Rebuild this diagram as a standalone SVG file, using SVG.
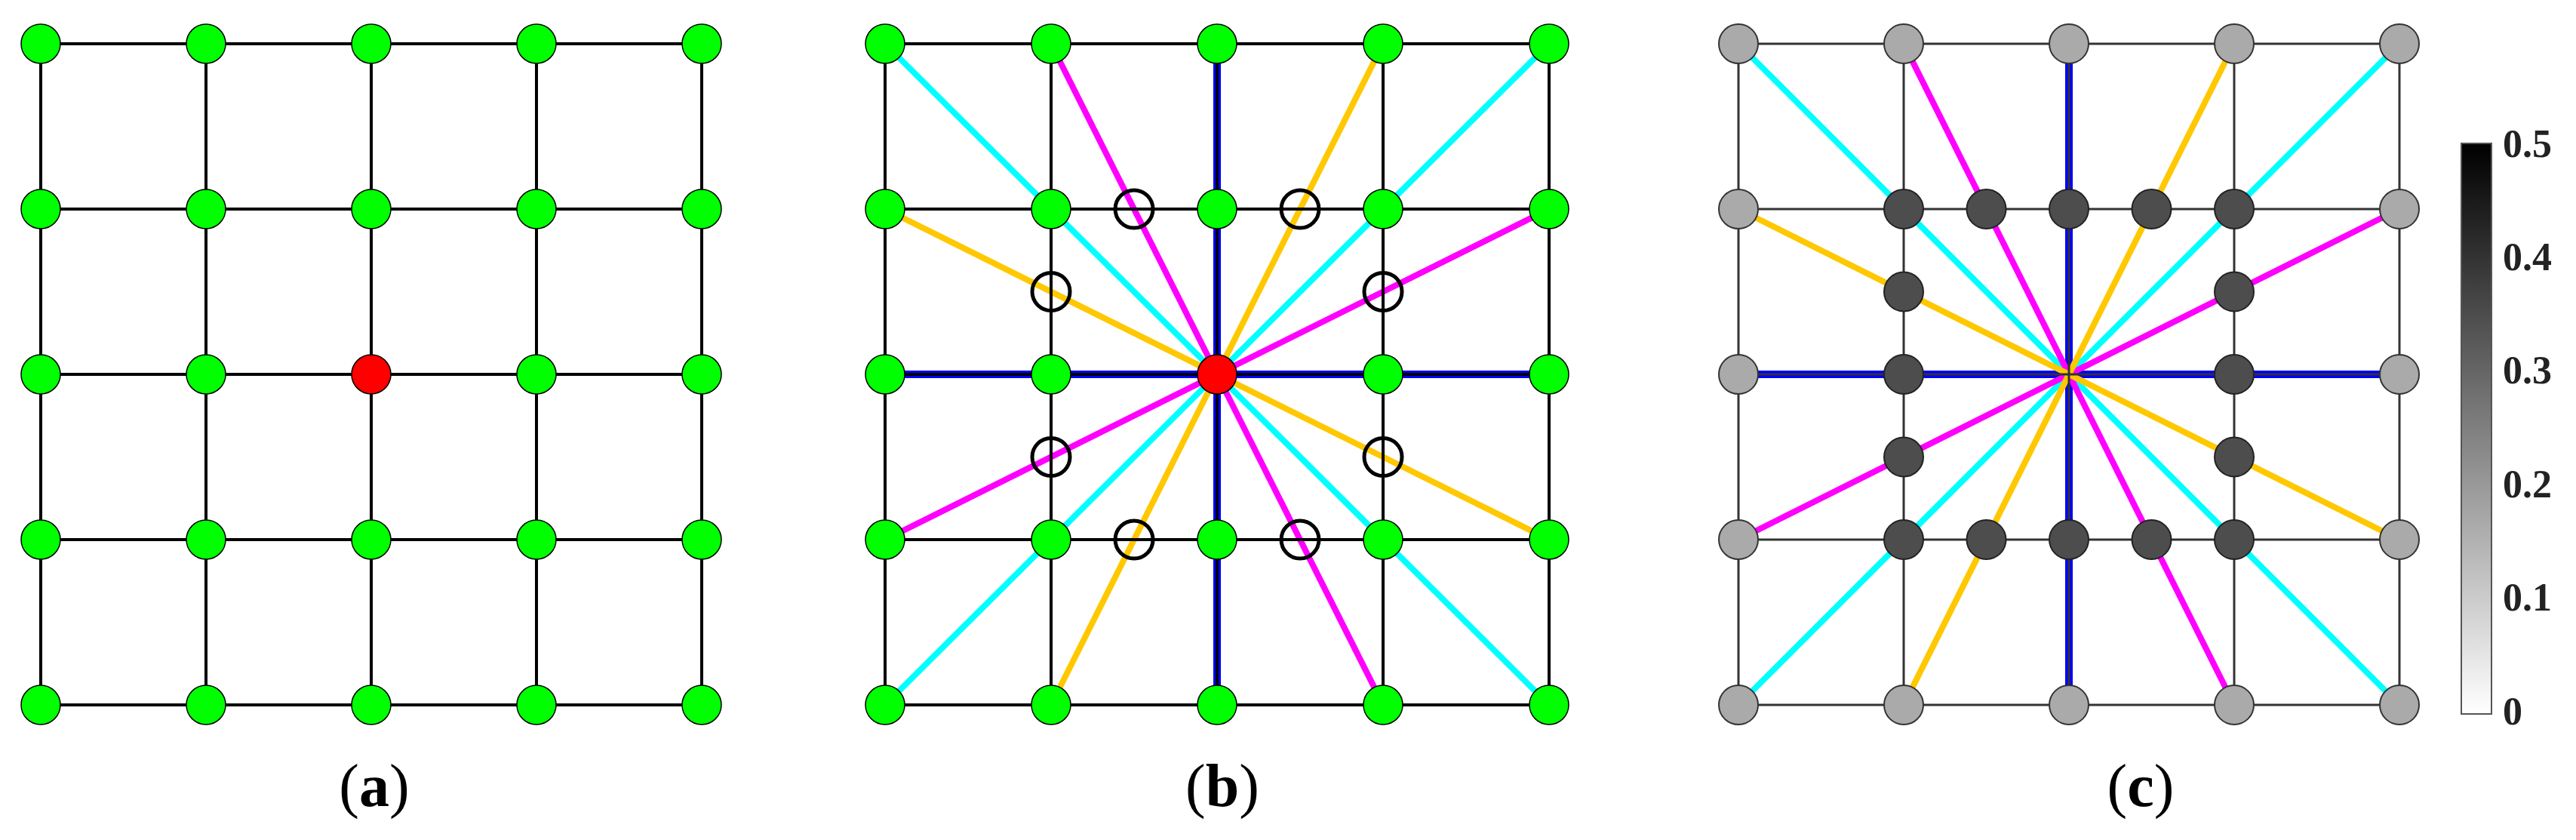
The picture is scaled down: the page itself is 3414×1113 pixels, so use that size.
<svg xmlns="http://www.w3.org/2000/svg" width="3414" height="1113" viewBox="0 0 3414 1113">
<defs>
<linearGradient id="cbar" x1="0" y1="1" x2="0" y2="0"><stop offset="0" stop-color="#ffffff"/><stop offset="1" stop-color="#000000"/></linearGradient>
<style>
.grid{stroke:#000;stroke-width:4;fill:none}
.gridc{stroke:#333;stroke-width:3;fill:none}
.blue{stroke:#0000ff;stroke-width:10}
.cyan{stroke:#00ffff;stroke-width:8}
.mag{stroke:#ff00ff;stroke-width:8}
.org{stroke:#ffc800;stroke-width:8}
.g{fill:#00ff00;stroke:#000;stroke-width:1.5}
.r{fill:#ff0000;stroke:#000;stroke-width:1.5}
.l{fill:#aaaaaa;stroke:#333;stroke-width:2}
.d{fill:#4d4d4d;stroke:#222;stroke-width:2}
.ring{fill:none;stroke:#000;stroke-width:5}
.lab{font-family:"Liberation Serif",serif;font-size:80px;text-anchor:middle}
.tick{font-family:"Liberation Serif",serif;font-size:52px;font-weight:bold;fill:#222}
</style>
</defs>
<rect width="3414" height="1113" fill="#fff"/>
<g id="connectors">
<!-- panel a grid -->
<path class="grid" d="M54 58H930M54 277H930M54 496H930M54 715H930M54 934H930M54 58V934M273 58V934M492 58V934M711 58V934M930 58V934"/>
<!-- panel b rays -->
<g class="blue"><line x1="1613" y1="58" x2="1613" y2="934"/><line x1="1173" y1="496" x2="2053" y2="496"/></g>
<g class="cyan"><line x1="1173" y1="58" x2="2053" y2="934"/><line x1="2053" y1="58" x2="1173" y2="934"/></g>
<g class="mag"><line x1="1393" y1="58" x2="1833" y2="934"/><line x1="2053" y1="277" x2="1173" y2="715"/></g>
<g class="org"><line x1="1833" y1="58" x2="1393" y2="934"/><line x1="1173" y1="277" x2="2053" y2="715"/></g>
<path class="grid" d="M1173 58H2053M1173 277H2053M1173 496H2053M1173 715H2053M1173 934H2053M1173 58V934M1393 58V934M1613 58V934M1833 58V934M2053 58V934"/>
<!-- panel c rays -->
<g class="blue"><line x1="2742" y1="58" x2="2742" y2="934"/><line x1="2304" y1="496" x2="3180" y2="496"/></g>
<g class="cyan"><line x1="2304" y1="58" x2="3180" y2="934"/><line x1="3180" y1="58" x2="2304" y2="934"/></g>
<g class="mag"><line x1="2523" y1="58" x2="2961" y2="934"/><line x1="3180" y1="277" x2="2304" y2="715"/></g>
<g class="org"><line x1="2961" y1="58" x2="2523" y2="934"/><line x1="2304" y1="277" x2="3180" y2="715"/></g>
<path class="gridc" d="M2304 58H3180M2304 277H3180M2304 496H3180M2304 715H3180M2304 934H3180M2304 58V934M2523 58V934M2742 58V934M2961 58V934M3180 58V934"/>
</g>
<!-- panel a nodes -->
<g id="a00"><circle class="g" cx="54" cy="58" r="26"/></g><g id="a01"><circle class="g" cx="273" cy="58" r="26"/></g><g id="a02"><circle class="g" cx="492" cy="58" r="26"/></g><g id="a03"><circle class="g" cx="711" cy="58" r="26"/></g><g id="a04"><circle class="g" cx="930" cy="58" r="26"/></g>
<g id="a10"><circle class="g" cx="54" cy="277" r="26"/></g><g id="a11"><circle class="g" cx="273" cy="277" r="26"/></g><g id="a12"><circle class="g" cx="492" cy="277" r="26"/></g><g id="a13"><circle class="g" cx="711" cy="277" r="26"/></g><g id="a14"><circle class="g" cx="930" cy="277" r="26"/></g>
<g id="a20"><circle class="g" cx="54" cy="496" r="26"/></g><g id="a21"><circle class="g" cx="273" cy="496" r="26"/></g><g id="a22"><circle class="r" cx="492" cy="496" r="26"/></g><g id="a23"><circle class="g" cx="711" cy="496" r="26"/></g><g id="a24"><circle class="g" cx="930" cy="496" r="26"/></g>
<g id="a30"><circle class="g" cx="54" cy="715" r="26"/></g><g id="a31"><circle class="g" cx="273" cy="715" r="26"/></g><g id="a32"><circle class="g" cx="492" cy="715" r="26"/></g><g id="a33"><circle class="g" cx="711" cy="715" r="26"/></g><g id="a34"><circle class="g" cx="930" cy="715" r="26"/></g>
<g id="a40"><circle class="g" cx="54" cy="934" r="26"/></g><g id="a41"><circle class="g" cx="273" cy="934" r="26"/></g><g id="a42"><circle class="g" cx="492" cy="934" r="26"/></g><g id="a43"><circle class="g" cx="711" cy="934" r="26"/></g><g id="a44"><circle class="g" cx="930" cy="934" r="26"/></g>
<!-- panel b nodes -->
<g id="b00"><circle class="g" cx="1173" cy="58" r="26"/></g><g id="b01"><circle class="g" cx="1393" cy="58" r="26"/></g><g id="b02"><circle class="g" cx="1613" cy="58" r="26"/></g><g id="b03"><circle class="g" cx="1833" cy="58" r="26"/></g><g id="b04"><circle class="g" cx="2053" cy="58" r="26"/></g>
<g id="b10"><circle class="g" cx="1173" cy="277" r="26"/></g><g id="b11"><circle class="g" cx="1393" cy="277" r="26"/></g><g id="b12"><circle class="g" cx="1613" cy="277" r="26"/></g><g id="b13"><circle class="g" cx="1833" cy="277" r="26"/></g><g id="b14"><circle class="g" cx="2053" cy="277" r="26"/></g>
<g id="b20"><circle class="g" cx="1173" cy="496" r="26"/></g><g id="b21"><circle class="g" cx="1393" cy="496" r="26"/></g><g id="b22"><circle class="r" cx="1613" cy="496" r="26"/></g><g id="b23"><circle class="g" cx="1833" cy="496" r="26"/></g><g id="b24"><circle class="g" cx="2053" cy="496" r="26"/></g>
<g id="b30"><circle class="g" cx="1173" cy="715" r="26"/></g><g id="b31"><circle class="g" cx="1393" cy="715" r="26"/></g><g id="b32"><circle class="g" cx="1613" cy="715" r="26"/></g><g id="b33"><circle class="g" cx="1833" cy="715" r="26"/></g><g id="b34"><circle class="g" cx="2053" cy="715" r="26"/></g>
<g id="b40"><circle class="g" cx="1173" cy="934" r="26"/></g><g id="b41"><circle class="g" cx="1393" cy="934" r="26"/></g><g id="b42"><circle class="g" cx="1613" cy="934" r="26"/></g><g id="b43"><circle class="g" cx="1833" cy="934" r="26"/></g><g id="b44"><circle class="g" cx="2053" cy="934" r="26"/></g>
<g id="b-ring1"><circle class="ring" cx="1503" cy="277" r="25"/></g><g id="b-ring2"><circle class="ring" cx="1723" cy="277" r="25"/></g>
<g id="b-ring3"><circle class="ring" cx="1503" cy="715" r="25"/></g><g id="b-ring4"><circle class="ring" cx="1723" cy="715" r="25"/></g>
<g id="b-ring5"><circle class="ring" cx="1393" cy="386.5" r="25"/></g><g id="b-ring6"><circle class="ring" cx="1833" cy="386.5" r="25"/></g>
<g id="b-ring7"><circle class="ring" cx="1393" cy="605.5" r="25"/></g><g id="b-ring8"><circle class="ring" cx="1833" cy="605.5" r="25"/></g>
<!-- panel c nodes -->
<g id="c00"><circle class="l" cx="2304" cy="58" r="26"/></g><g id="c01"><circle class="l" cx="2523" cy="58" r="26"/></g><g id="c02"><circle class="l" cx="2742" cy="58" r="26"/></g><g id="c03"><circle class="l" cx="2961" cy="58" r="26"/></g><g id="c04"><circle class="l" cx="3180" cy="58" r="26"/></g>
<g id="c10"><circle class="l" cx="2304" cy="277" r="26"/></g><g id="c14"><circle class="l" cx="3180" cy="277" r="26"/></g>
<g id="c20"><circle class="l" cx="2304" cy="496" r="26"/></g><g id="c24"><circle class="l" cx="3180" cy="496" r="26"/></g>
<g id="c30"><circle class="l" cx="2304" cy="715" r="26"/></g><g id="c34"><circle class="l" cx="3180" cy="715" r="26"/></g>
<g id="c40"><circle class="l" cx="2304" cy="934" r="26"/></g><g id="c41"><circle class="l" cx="2523" cy="934" r="26"/></g><g id="c42"><circle class="l" cx="2742" cy="934" r="26"/></g><g id="c43"><circle class="l" cx="2961" cy="934" r="26"/></g><g id="c44"><circle class="l" cx="3180" cy="934" r="26"/></g>
<g id="c-d1"><circle class="d" cx="2523" cy="277" r="26"/></g><g id="c-d2"><circle class="d" cx="2632.5" cy="277" r="26"/></g><g id="c-d3"><circle class="d" cx="2742" cy="277" r="26"/></g><g id="c-d4"><circle class="d" cx="2851.5" cy="277" r="26"/></g><g id="c-d5"><circle class="d" cx="2961" cy="277" r="26"/></g>
<g id="c-d6"><circle class="d" cx="2523" cy="715" r="26"/></g><g id="c-d7"><circle class="d" cx="2632.5" cy="715" r="26"/></g><g id="c-d8"><circle class="d" cx="2742" cy="715" r="26"/></g><g id="c-d9"><circle class="d" cx="2851.5" cy="715" r="26"/></g><g id="c-d10"><circle class="d" cx="2961" cy="715" r="26"/></g>
<g id="c-d11"><circle class="d" cx="2523" cy="386.5" r="26"/></g><g id="c-d12"><circle class="d" cx="2523" cy="496" r="26"/></g><g id="c-d13"><circle class="d" cx="2523" cy="605.5" r="26"/></g>
<g id="c-d14"><circle class="d" cx="2961" cy="386.5" r="26"/></g><g id="c-d15"><circle class="d" cx="2961" cy="496" r="26"/></g><g id="c-d16"><circle class="d" cx="2961" cy="605.5" r="26"/></g>
<!-- colorbar -->
<g id="colorbar">
<rect x="3262" y="190" width="40" height="756" fill="url(#cbar)" stroke="#555" stroke-width="2"/>
<text class="tick" x="3317" y="208">0.5</text>
<text class="tick" x="3317" y="358">0.4</text>
<text class="tick" x="3317" y="508">0.3</text>
<text class="tick" x="3317" y="659">0.2</text>
<text class="tick" x="3317" y="809">0.1</text>
<text class="tick" x="3317" y="960">0</text>
</g>
<g id="labels">
<text class="lab" x="496" y="1068">(<tspan font-weight="bold">a</tspan>)</text>
<text class="lab" x="1620" y="1068">(<tspan font-weight="bold">b</tspan>)</text>
<text class="lab" x="2837" y="1068">(<tspan font-weight="bold">c</tspan>)</text>
</g>
</svg>
